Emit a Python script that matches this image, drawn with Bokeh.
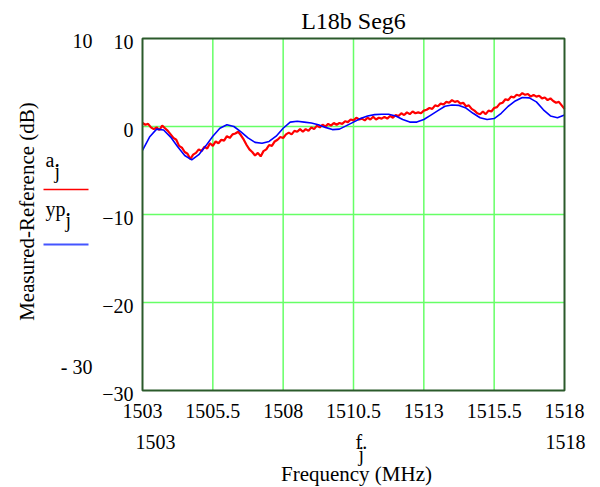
import numpy as np
from bokeh.plotting import figure
from bokeh.models import Range1d
from bokeh.core.properties import value
from bokeh.embed import file_html
from bokeh.resources import INLINE

# ---------------- data ----------------
title = "L18b Seg6"
x_label = "Frequency (MHz)"
y_label = "Measured-Reference (dB)"
x_ticks = [1503, 1505.5, 1508, 1510.5, 1513, 1515.5, 1518]
x_tick_labels = ["1503", "1505.5", "1508", "1510.5", "1513", "1515.5", "1518"]
y_ticks = [-30, -20, -10, 0, 10]
y_tick_labels = ["\u221230", "\u221220", "\u221210", "0", "10"]
x_grid = [1505.5, 1508, 1510.5, 1513, 1515.5]
y_grid = [-20, -10, 0]

# measured a_j, sampled every 0.1 MHz from 1503 to 1518
a_freq = np.round(1503 + 0.1 * np.arange(151), 1)
a_vals = [
    0.4, 0.2, 0.3, -0.1, -0.3, -0.1, -0.4, 0.1, -0.2, -0.5,
    -0.9, -1.3, -1.5, -2.2, -2.4, -2.9, -3.1, -3.7, -3.2, -3.0,
    -2.6, -2.8, -2.3, -2.5, -1.9, -2.2, -1.7, -1.9, -1.5, -1.6,
    -1.1, -1.3, -0.9, -0.8, -0.6, -1.0, -1.5, -2.1, -2.6, -2.9,
    -3.3, -3.0, -3.4, -2.8, -2.6, -2.1, -2.2, -1.7, -1.5, -1.2,
    -1.3, -0.9, -0.7, -0.9, -0.5, -0.6, -0.3, -0.6, -0.3, -0.5,
    -0.1, -0.3, 0.1, -0.1, 0.2, 0.0, 0.3, 0.1, 0.4, 0.2,
    0.4, 0.3, 0.6, 0.5, 0.8, 0.7, 1.0, 0.8, 0.9, 0.7,
    1.0, 0.8, 1.1, 0.8, 1.0, 0.9, 1.1, 0.9, 1.2, 1.0,
    1.3, 1.2, 1.5, 1.3, 1.6, 1.4, 1.7, 1.5, 1.6, 1.5,
    1.8, 1.9, 2.1, 2.0, 2.4, 2.3, 2.6, 2.5, 2.8, 2.7,
    3.0, 2.8, 2.9, 2.6, 2.7, 2.3, 2.4, 2.0, 1.8, 1.5,
    1.4, 1.7, 1.4, 1.8, 1.7, 2.1, 2.2, 2.6, 2.7, 3.1,
    3.0, 3.4, 3.3, 3.6, 3.5, 3.8, 3.6, 3.7, 3.4, 3.6,
    3.4, 3.5, 3.2, 3.3, 3.0, 3.2, 2.9, 2.7, 2.8, 2.4,
    2.0,
]

# fitted yp_j, sampled every 0.25 MHz
yp_freq = 1503 + 0.25 * np.arange(61)
yp_vals = [
    -2.7, -1.2, -0.3, -0.4, -1.2, -2.3, -3.3, -3.8, -3.2, -2.2,
    -1.1, -0.2, 0.2, 0.0, -0.6, -1.3, -1.8, -1.9, -1.7, -1.1,
    -0.2, 0.5, 0.6, 0.5, 0.4, 0.2, -0.1, -0.35, -0.3, 0.1,
    0.5, 0.9, 1.2, 1.35, 1.4, 1.4, 1.2, 0.8, 0.5, 0.5,
    0.8, 1.3, 1.8, 2.3, 2.45, 2.4, 2.1, 1.5, 1.0, 0.8,
    0.9, 1.5, 2.3, 2.9, 3.3, 3.25, 2.8, 1.9, 1.2, 1.0,
    1.3,
]

# ---------------- layout ----------------
W, H = 600, 487
FL, FR, FT, FB = 142, 564, 38, 390  # plot-box edges in pixels
XMIN, XMAX, YMIN, YMAX = 1503, 1518, -30, 10
FONT = "Liberation Serif"
FS = "20px"


def dx(px):
    return XMIN + (px - FL) * (XMAX - XMIN) / (FR - FL)


def dy(py):
    return YMIN + (FB - py) * (YMAX - YMIN) / (FB - FT)


PX = (YMAX - YMIN) / (FB - FT)  # data units per vertical pixel

# the scales span the whole canvas so that every label can be placed
p = figure(width=W, height=H, output_backend="svg", toolbar_location=None,
           x_range=Range1d(dx(0), dx(W)), y_range=Range1d(dy(H), dy(0)),
           x_axis_location=None, y_axis_location=None, min_border=0)
p.grid.visible = False
p.outline_line_color = None
p.background_fill_color = "white"
p.border_fill_color = "white"

# grid lines
p.segment(x0=x_grid, y0=[YMIN] * len(x_grid), x1=x_grid, y1=[YMAX] * len(x_grid),
          line_color="#66ff66", line_width=1.5)
p.segment(x0=[XMIN] * len(y_grid), y0=y_grid, x1=[XMAX] * len(y_grid), y1=y_grid,
          line_color="#66ff66", line_width=1.5)

# data lines
p.line(a_freq, a_vals, line_color="#ff0000", line_width=2.2)
p.line(yp_freq, yp_vals, line_color="#0000ff", line_width=1.6)

# plot box
p.quad(left=[XMIN], right=[XMAX], bottom=[YMIN], top=[YMAX],
       fill_color=None, line_color="#2b5a2b", line_width=2)


def txt(xs, ys, texts, align="left", size=FS, angle=0.0):
    p.text(x=xs, y=ys, text=texts, text_font=value(FONT),
           text_font_size=value(size), text_align=align,
           text_baseline="middle", text_color="black", angle=angle)


# tick labels
txt(x_ticks, [dy(410)] * len(x_ticks), x_tick_labels, align="center")
txt([dx(133)] * len(y_ticks), [t - 3 * PX for t in y_ticks],
    y_tick_labels, align="right")

# titles / extra labels
txt([dx(353)], [dy(20)], [title], align="center", size="24px")
txt([dx(92)], [dy(40)], ["10"], align="right")
txt([dx(92)], [dy(366)], ["- 30"], align="right")
txt([dx(26)], [dy(211)], [y_label], align="center", size="21px",
    angle=np.pi / 2)

# legend
txt([dx(45)], [dy(159)], ["a."])
txt([dx(54)], [dy(170)], ["j"])
txt([dx(45)], [dy(208)], ["yp."])
txt([dx(65)], [dy(219)], ["j"])
p.segment(x0=[dx(43)], y0=[dy(189)], x1=[dx(88)], y1=[dy(189)],
          line_color="#ff0000", line_width=1.5)
p.segment(x0=[dx(43)], y0=[dy(244)], x1=[dx(88)], y1=[dy(244)],
          line_color="#4455ff", line_width=2)

# bottom texts
txt([dx(135)], [dy(441)], ["1503"])
txt([dx(585)], [dy(441)], ["1518"], align="right")
txt([dx(355)], [dy(441)], ["f."])
txt([dx(358)], [dy(453)], ["j"])
txt([dx(356)], [dy(473)], [x_label], align="center", size="21px")

open("out.html", "w").write(file_html(p, INLINE))
